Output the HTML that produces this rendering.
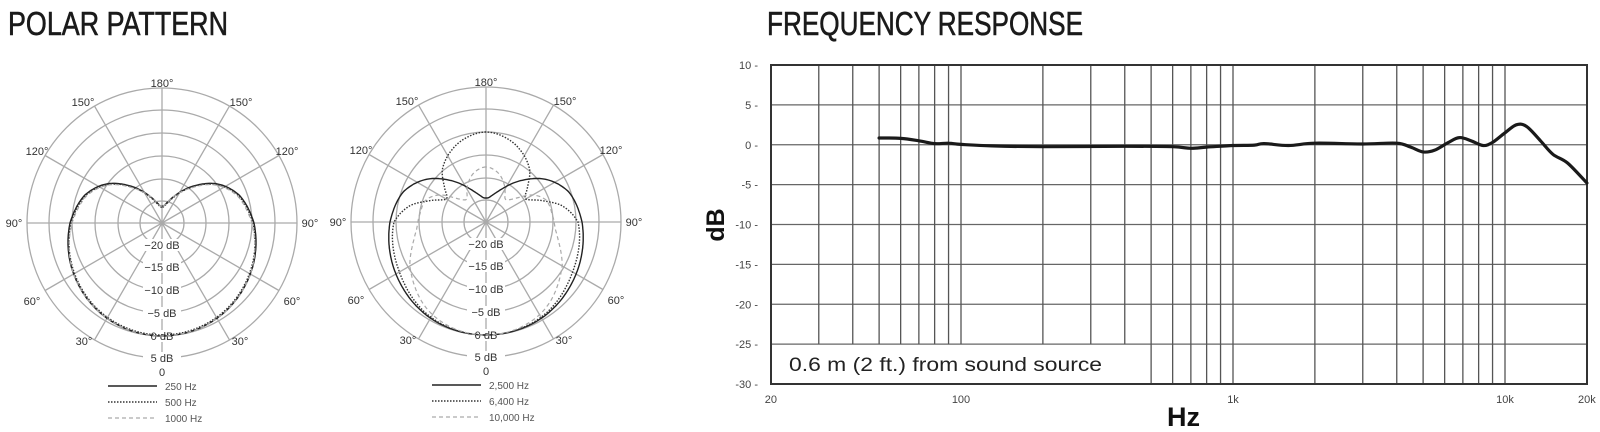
<!DOCTYPE html>
<html><head><meta charset="utf-8"><style>
html,body{margin:0;padding:0;background:#fff;}
svg{display:block;}
</style></head><body>
<svg id="s" width="1600" height="432" viewBox="0 0 1600 432" xmlns="http://www.w3.org/2000/svg" font-family="Liberation Sans, sans-serif">
<text x="8" y="35" font-size="33" fill="#1a1a1a" stroke="#1a1a1a" stroke-width="0.6" textLength="220" lengthAdjust="spacingAndGlyphs">POLAR PATTERN</text>
<text x="767" y="35" font-size="33" fill="#1a1a1a" stroke="#1a1a1a" stroke-width="0.6" textLength="316" lengthAdjust="spacingAndGlyphs">FREQUENCY RESPONSE</text>
<g id="p1"></g><g id="p2"></g><g id="fr"></g>
</svg>
<script>
var NS="http://www.w3.org/2000/svg";
function el(p,t,a,txt){var e=document.createElementNS(NS,t);for(var k in a)e.setAttribute(k,a[k]);if(txt!==undefined)e.textContent=txt;p.appendChild(e);return e;}
function interp(tab,th){
  // symmetric extension for catmull-rom
  var ext=[];for(var i=tab.length-1;i>0;i--)ext.push([-tab[i][0],tab[i][1]]);
  ext=ext.concat(tab);for(var i=tab.length-2;i>=0;i--)ext.push([360-tab[i][0],tab[i][1]]);
  for(var i=0;i<ext.length-1;i++){var a=ext[i],b=ext[i+1];if(th>=a[0]&&th<=b[0]){
    var t=(th-a[0])/(b[0]-a[0]);var p0=ext[Math.max(0,i-1)][1],p1=a[1],p2=b[1],p3=ext[Math.min(ext.length-1,i+2)][1];
    var t2=t*t,t3=t2*t;return 0.5*((2*p1)+(-p0+p2)*t+(2*p0-5*p1+4*p2-p3)*t2+(-p0+3*p1-3*p2+p3)*t3);}}
  return tab[tab.length-1][1];}
function polar(g,cx,cy,series,legend){
  var rings=[135,113,90,67,44,22];
  rings.forEach(function(r){el(g,"circle",{cx:cx,cy:cy,r:r,fill:"none",stroke:"#aaa","stroke-width":1.3});});
  for(var a=0;a<360;a+=30){var rad=a*Math.PI/180;el(g,"line",{x1:cx,y1:cy,x2:cx+135*Math.sin(rad),y2:cy+135*Math.cos(rad),stroke:"#aaa","stroke-width":1.3});}
  var labs=["5 dB","0 dB","\u22125 dB","\u221210 dB","\u221215 dB","\u221220 dB"];
  rings.forEach(function(r,i){el(g,"rect",{x:cx-19,y:cy+r-6,width:38,height:12,fill:"#fff"});el(g,"text",{x:cx,y:cy+r+4,"font-size":11,"text-anchor":"middle",fill:"#333"},labs[i]);});
  el(g,"text",{x:cx,y:cy+153,"font-size":11,"text-anchor":"middle",fill:"#333"},"0");
  var ang=[[180,0,-140],[150,-79,-121],[120,-125,-72],[90,-148,0],[60,-130,78],[30,-78,118]];
  ang.forEach(function(a){el(g,"text",{x:cx+a[1],y:cy+a[2]+4,"font-size":11,"text-anchor":"middle",fill:"#333"},a[0]+"\u00b0");
    if(a[0]!=180)el(g,"text",{x:cx-a[1],y:cy+a[2]+4,"font-size":11,"text-anchor":"middle",fill:"#333"},a[0]+"\u00b0");});
  series.forEach(function(s,i){
    var d="";for(var t=-180;t<=180;t+=1){var th=Math.abs(t),r=interp(s.tab,th),rad=t*Math.PI/180;var x=cx+r*Math.sin(rad),y=cy+r*Math.cos(rad);d+=(t==-180?"M":"L")+x.toFixed(1)+" "+y.toFixed(1);}
    el(g,"path",{d:d+"Z",fill:"none",stroke:s.c,"stroke-width":s.w,"stroke-dasharray":s.da||""});
    var ly=cy+163+i*16;
    el(g,"line",{x1:cx-54,y1:ly,x2:cx-5,y2:ly,stroke:s.c,"stroke-width":s.w,"stroke-dasharray":s.da||""});
    el(g,"text",{x:cx+3,y:ly+4,"font-size":10,fill:"#555"},legend[i]);
  });
}
var c1=[[0,113],[30,110],[60,102],[90,92],[110,82],[125,68],[140,48],[155,30],[170,19],[180,17]];
var c1b=c1.map(function(p){return [p[0],p[1]-1];});
var c1c=c1.map(function(p){return [p[0],p[1]-(p[0]>60&&p[0]<150?2:0)];});
polar(document.getElementById("p1"),162,223,[
 {tab:c1,c:"#222",w:1.4},{tab:c1b,c:"#333",w:1.4,da:"1.5 1.5"},{tab:c1c,c:"#aaa",w:1.2,da:"4 3"}],["250 Hz","500 Hz","1000 Hz"]);
polar(document.getElementById("p2"),486,222,[
 {tab:[[0,113],[30,111],[60,104],[90,96],[110,88],[125,74],[140,54],[155,36],[170,26],[180,24]],c:"#222",w:1.4},
 {tab:[[0,113],[30,110],[60,100],[90,92],[102,78],[112,58],[120,46],[128,52],[140,68],[155,80],[168,87],[180,90]],c:"#333",w:1.4,da:"1.5 1.5"},
 {tab:[[0,113],[30,107],[60,88],[80,72],[95,67],[110,64],[120,54],[130,36],[140,30],[152,40],[165,50],[180,55]],c:"#aaa",w:1.2,da:"4 3"}],["2,500 Hz","6,400 Hz","10,000 Hz"]);
var g=document.getElementById("fr");
function fx(f){return 961+272*Math.log10(f/100);}
function dy(d){return 144.75-7.975*d;}
for(var d=10;d>=-30;d-=5){var y=dy(d);el(g,"line",{x1:771,y1:y,x2:1587,y2:y,stroke:"#666","stroke-width":1.3});
 el(g,"text",{x:758,y:y+4,"font-size":11,"text-anchor":"end",fill:"#444"},d+" -");}
var fs=[30,40,50,60,70,80,90,100,200,300,400,500,600,700,800,900,1000,2000,3000,4000,5000,6000,7000,8000,9000,10000];
fs.forEach(function(f){var x=fx(f);el(g,"line",{x1:x,y1:65,x2:x,y2:(f<=400?dy(-25):384),stroke:"#555","stroke-width":1.3});});
el(g,"text",{x:789,y:371,"font-size":19,fill:"#222",textLength:313,lengthAdjust:"spacingAndGlyphs"},"0.6 m (2 ft.) from sound source");
el(g,"rect",{x:771,y:65,width:816,height:319,fill:"none",stroke:"#333","stroke-width":2});
[["20",20],["100",100],["1k",1000],["10k",10000],["20k",20000]].forEach(function(l){el(g,"text",{x:fx(l[1]),y:403,"font-size":11,"text-anchor":"middle",fill:"#444"},l[0]);});
el(g,"text",{x:0,y:0,"font-size":25,"font-weight":"bold","text-anchor":"middle",fill:"#111",transform:"translate(724,225) rotate(-90)"},"dB");
el(g,"text",{x:1167,y:426,"font-size":27,"font-weight":"bold",fill:"#111"},"Hz");
var pts=[[50,0.85],[60,0.8],[70,0.5],[80,0.15],[90,0.2],[100,0.05],[130,-0.15],[200,-0.25],[400,-0.2],[600,-0.25],[700,-0.45],[800,-0.3],[1000,-0.1],[1200,-0.05],[1300,0.15],[1600,-0.1],[2000,0.2],[3000,0.1],[4000,0.2],[4500,-0.3],[5000,-0.9],[5500,-0.7],[6200,0.3],[6800,0.9],[7500,0.5],[8300,-0.1],[9000,0.3],[10000,1.5],[11000,2.5],[12000,2.3],[13500,0.5],[15000,-1.2],[17000,-2.3],[20000,-4.8]];
var dd="";for(var i=0;i<pts.length-1;i++){var p0=pts[Math.max(0,i-1)],p1=pts[i],p2=pts[i+1],p3=pts[Math.min(pts.length-1,i+2)];
 var X=function(p){return fx(p[0]);},Y=function(p){return dy(p[1]);};
 if(i==0)dd+="M"+X(p1).toFixed(1)+" "+Y(p1).toFixed(1);
 dd+="C"+(X(p1)+(X(p2)-X(p0))/6).toFixed(1)+" "+(Y(p1)+(Y(p2)-Y(p0))/6).toFixed(1)+" "+(X(p2)-(X(p3)-X(p1))/6).toFixed(1)+" "+(Y(p2)-(Y(p3)-Y(p1))/6).toFixed(1)+" "+X(p2).toFixed(1)+" "+Y(p2).toFixed(1);}
el(g,"path",{d:dd,fill:"none",stroke:"#1a1a1a","stroke-width":3.2,"stroke-linecap":"round"});
</script>
</body></html>
